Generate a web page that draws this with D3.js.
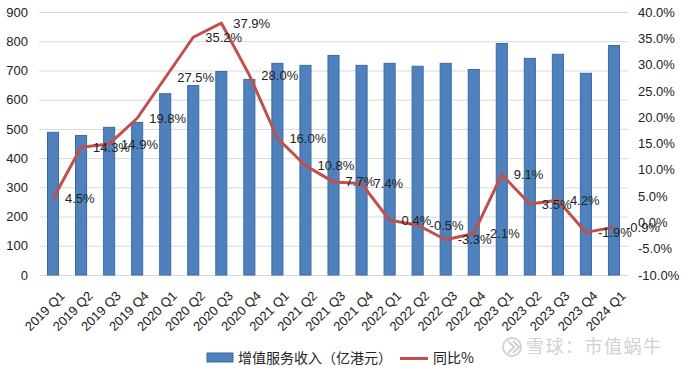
<!DOCTYPE html>
<html lang="zh">
<head>
<meta charset="UTF-8">
<title>增值服务收入</title>
<script src="https://d3js.org/d3.v7.min.js"></script>
<style>
  body { margin: 0; background: #fff; }
  svg { display: block; font-family: "Liberation Sans", Arial, sans-serif; }
  .tick text { fill: #222; font-size: 13px; }
</style>
</head>
<body>
<svg id="chart"></svg>
<script>
// quarters, revenue (亿港元), yoy growth (%)
const quarters = ["2019 Q1","2019 Q2","2019 Q3","2019 Q4","2020 Q1","2020 Q2","2020 Q3","2020 Q4",
  "2021 Q1","2021 Q2","2021 Q3","2021 Q4","2022 Q1","2022 Q2","2022 Q3","2022 Q4",
  "2023 Q1","2023 Q2","2023 Q3","2023 Q4","2024 Q1"];
const revenue = [490, 479, 507, 524, 622, 650, 698, 671, 726, 719, 753, 719, 726, 716, 726, 705,
  794, 743, 757, 692, 787];
const yoy = [4.5, 14.3, 14.9, 19.8, 27.5, 35.2, 37.9, 28.0, 16.0, 10.8, 7.7, 7.4, 0.4, -0.5, -3.3,
  -2.1, 9.1, 3.5, 4.2, -1.9, -0.9];
const leftTicks = [0, 100, 200, 300, 400, 500, 600, 700, 800, 900];
const rightTicks = [-10, -5, 0, 5, 10, 15, 20, 25, 30, 35, 40];

const width = 683, height = 369;
const margin = { top: 12, right: 55, bottom: 94, left: 39 };
const svg = d3.select('#chart').attr('width', width).attr('height', height);

const x = d3.scaleBand().domain(quarters)
  .range([margin.left, width - margin.right]).paddingInner(0.57).paddingOuter(0.285);
const xc = d3.scaleBand().domain(quarters).range([margin.left, width - margin.right]);
const y = d3.scaleLinear().domain([0, 900]).range([height - margin.bottom, margin.top]);
const y2 = d3.scaleLinear().domain([-10, 40]).range([height - margin.bottom, margin.top]);

// gridlines
svg.append('g').selectAll('line').data(leftTicks).join('line')
  .attr('x1', margin.left).attr('x2', width - margin.right)
  .attr('y1', d => y(d) + 0.5).attr('y2', d => y(d) + 0.5)
  .attr('stroke', '#d9d9d9').attr('stroke-width', 1);

// left axis
svg.append('g')
  .attr('transform', `translate(${margin.left - 4},0)`)
  .call(d3.axisLeft(y).tickValues(leftTicks).tickSize(0).tickPadding(7))
  .call(g => g.select('.domain').remove());

// right axis
svg.append('g')
  .attr('transform', `translate(${width - margin.right + 3},0)`)
  .call(d3.axisRight(y2).tickValues(rightTicks).tickSize(0).tickPadding(7)
    .tickFormat(d => d.toFixed(1) + '%'))
  .call(g => g.select('.domain').remove());

// bottom axis
svg.append('g')
  .attr('transform', `translate(0,${height - margin.bottom})`)
  .call(d3.axisBottom(xc).tickSize(0).tickPadding(0))
  .call(g => g.select('.domain').remove())
  .selectAll('text')
  .attr('font-size', 13.5)
  .attr('text-anchor', 'end')
  .attr('transform', 'translate(6,15) rotate(-45)')
  .attr('dy', '0.71em');

// bars
svg.append('g').selectAll('rect').data(revenue).join('rect')
  .attr('x', (d, i) => x(quarters[i]) + 0.5)
  .attr('y', d => y(d) + 0.5)
  .attr('width', x.bandwidth() - 1)
  .attr('height', d => y(0) - y(d) - 0.5)
  .attr('fill', '#4f81bd')
  .attr('stroke', '#3a6aa5')
  .attr('stroke-width', 1);

// yoy line
const line = d3.line()
  .x((d, i) => xc(quarters[i]) + xc.bandwidth() / 2)
  .y(d => y2(d));
svg.append('path').datum(yoy)
  .attr('d', line)
  .attr('fill', 'none')
  .attr('stroke', '#c0504d')
  .attr('stroke-width', 3)
  .attr('stroke-linejoin', 'round');

// data labels, right of each point
svg.append('g').selectAll('text').data(yoy).join('text')
  .attr('x', (d, i) => xc(quarters[i]) + xc.bandwidth() / 2 + 12)
  .attr('y', d => y2(d))
  .attr('dy', '0.35em')
  .attr('font-size', 13)
  .attr('fill', '#222')
  .text(d => d.toFixed(1) + '%');

// legend
const lg = svg.append('g').attr('font-family', '"Noto Sans CJK SC", sans-serif').attr('font-size', 14);
lg.append('rect').attr('x', 207).attr('y', 353).attr('width', 26).attr('height', 9)
  .attr('fill', '#4f81bd').attr('stroke', '#3a6aa5');
lg.append('text').attr('x', 238).attr('y', 358).attr('dy', '0.35em').attr('fill', '#222')
  .text('增值服务收入（亿港元）');
lg.append('line').attr('x1', 400).attr('x2', 428).attr('y1', 358.5).attr('y2', 358.5)
  .attr('stroke', '#c0504d').attr('stroke-width', 3);
lg.append('text').attr('x', 433).attr('y', 358).attr('dy', '0.35em').attr('fill', '#222')
  .text('同比%');

// watermark
const wm = svg.append('g').attr('opacity', 0.8);
wm.append('circle').attr('cx', 512).attr('cy', 347).attr('r', 9)
  .attr('fill', 'none').attr('stroke', '#c8c8c8').attr('stroke-width', 2);
wm.append('path').attr('d', 'M508,341 L514,347 L508,353 M513,341 L519,347 L513,353')
  .attr('fill', 'none').attr('stroke', '#c8c8c8').attr('stroke-width', 2);
wm.append('text').attr('x', 526).attr('y', 347).attr('dy', '0.36em')
  .attr('font-family', '"Noto Sans CJK SC", sans-serif').attr('font-size', 18)
  .attr('fill', '#c8c8c8')
  .attr('letter-spacing', 1.5)
  .text('雪球：市值蜗牛');
</script>
</body>
</html>
